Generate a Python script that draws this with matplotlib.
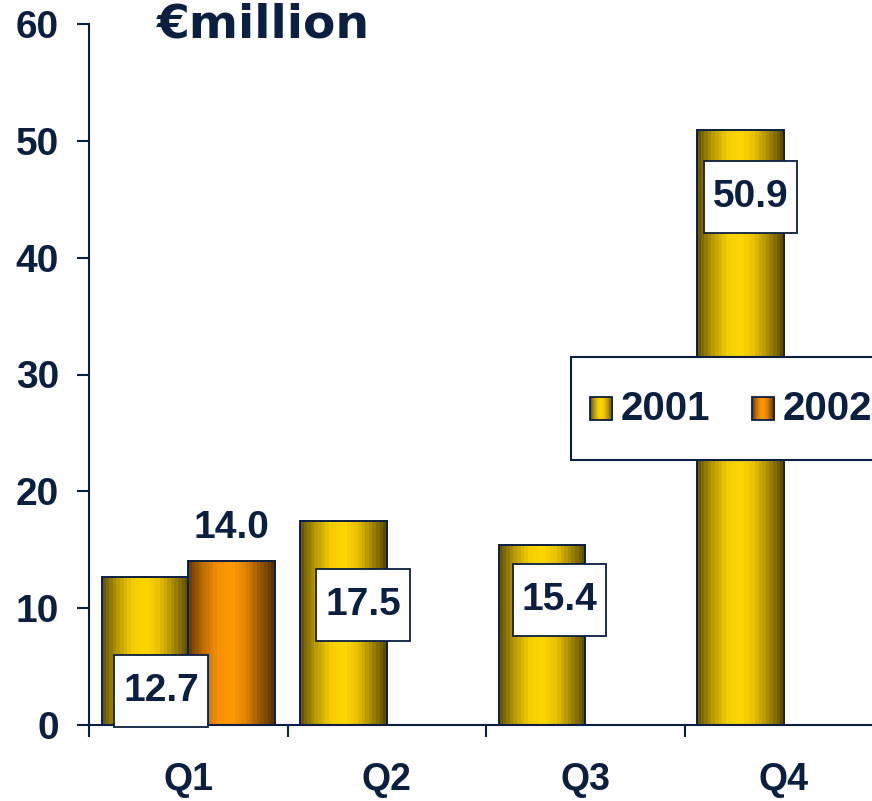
import numpy as np
import matplotlib
matplotlib.use("Agg")
import matplotlib.pyplot as plt
from matplotlib.patches import Rectangle
from matplotlib.colors import LinearSegmentedColormap

# Quarterly figures, € million
quarters = ["Q1", "Q2", "Q3", "Q4"]
values_2001 = [12.7, 17.5, 15.4, 50.9]
values_2002 = [14.0, None, None, None]
series_names = ["2001", "2002"]

NAVY = "#0b1f40"
FONT = "Liberation Sans"

# cylinder-style shading for each series
gold = LinearSegmentedColormap.from_list(
    "gold", ["#6a5800", "#b89a00", "#f2cc00", "#ffd800", "#e8c000", "#a88c00", "#5e4e00"])
orange = LinearSegmentedColormap.from_list(
    "orange", ["#6e3e00", "#c06e00", "#f59000", "#ff9a00", "#e08400", "#9c5a00", "#5a3300"])

fig = plt.figure(figsize=(8.72, 8.01), dpi=100)
ax = fig.add_axes([89 / 872, 76 / 801, 794 / 872, 701 / 801])

x = np.arange(len(quarters))
w = 0.435
grad = np.linspace(0, 1, 24).reshape(1, -1)


def shaded_bars(xs, vals, cmap):
    for xi, v in zip(xs, vals):
        if v is None:
            continue
        bar = ax.bar(xi, v, width=w, facecolor="none", edgecolor=NAVY,
                     linewidth=1.4, zorder=3)[0]
        im = ax.imshow(grad, cmap=cmap, aspect="auto", interpolation="nearest",
                       extent=(xi - w / 2, xi + w / 2, 0, v), zorder=2)
        im.set_clip_path(bar)


shaded_bars(x - w / 2, values_2001, gold)
shaded_bars(x + w / 2, values_2002, orange)

# value labels in white boxes
box_w, box_h = 0.47, 6.1
label_xy = [(-0.137, 2.9), (0.880, 10.28), (1.870, 10.7), (2.832, 45.2)]
for (lx, ly), v in zip(label_xy, values_2001):
    ax.add_patch(Rectangle((lx - box_w / 2, ly - box_h / 2), box_w, box_h,
                           facecolor="white", edgecolor=NAVY, linewidth=1.3,
                           zorder=5, clip_on=False))
    ax.text(lx, ly, f"{v:.1f}", ha="center", va="center", fontsize=28,
            fontweight="bold", color=NAVY, family=FONT, zorder=6)

for xi, v in zip(x + w / 2, values_2002):
    if v is None:
        continue
    ax.text(xi, v + 1.3, f"{v:.1f}", ha="center", va="bottom", fontsize=28,
            fontweight="bold", color=NAVY, family=FONT, zorder=6)

# legend box
ax.add_patch(Rectangle((1.928, 22.7), 1.8, 8.8, facecolor="white",
                       edgecolor=NAVY, linewidth=1.5, zorder=7, clip_on=False))
for (mx, tx), cmap, name in zip([(2.024, 2.180), (2.840, 2.992)],
                                [gold, orange], series_names):
    sq = Rectangle((mx, 26.1), 0.112, 1.95, facecolor="none",
                   edgecolor=NAVY, linewidth=1.3, zorder=9, clip_on=False)
    ax.add_patch(sq)
    im = ax.imshow(grad, cmap=cmap, aspect="auto", interpolation="nearest",
                   extent=(mx, mx + 0.112, 26.1, 28.05), zorder=8)
    im.set_clip_path(sq)
    ax.text(tx, 27.05, name, ha="left", va="center", fontsize=29,
            fontweight="bold", color=NAVY, family=FONT, zorder=9)

# axes styling
ax.set_xlim(-0.5, 3.5)
ax.set_ylim(0, 60)
ax.set_yticks(range(0, 61, 10))
ax.set_xticks(x)
ax.set_xticklabels(quarters)
ax.set_xticks(np.arange(-0.5, 3.5, 1.0), minor=True)
for s in ["top", "right"]:
    ax.spines[s].set_visible(False)
for s in ["left", "bottom"]:
    ax.spines[s].set_color(NAVY)
    ax.spines[s].set_linewidth(1.5)
ax.tick_params(axis="y", length=8.6, width=1.5, color=NAVY, pad=13,
               labelsize=28, labelcolor=NAVY)
ax.tick_params(axis="x", which="major", length=0, pad=27,
               labelsize=27, labelcolor=NAVY)
ax.tick_params(axis="x", which="minor", length=8.6, width=1.5, color=NAVY)
for lab in ax.get_xticklabels() + ax.get_yticklabels():
    lab.set_fontweight("bold")
    lab.set_family(FONT)

fig.text(157 / 872, 1 - 37 / 801, "€million", ha="left", va="baseline",
         fontsize=34, fontweight="bold", color=NAVY, family="DejaVu Sans")

fig.savefig("out.png", dpi=100)
